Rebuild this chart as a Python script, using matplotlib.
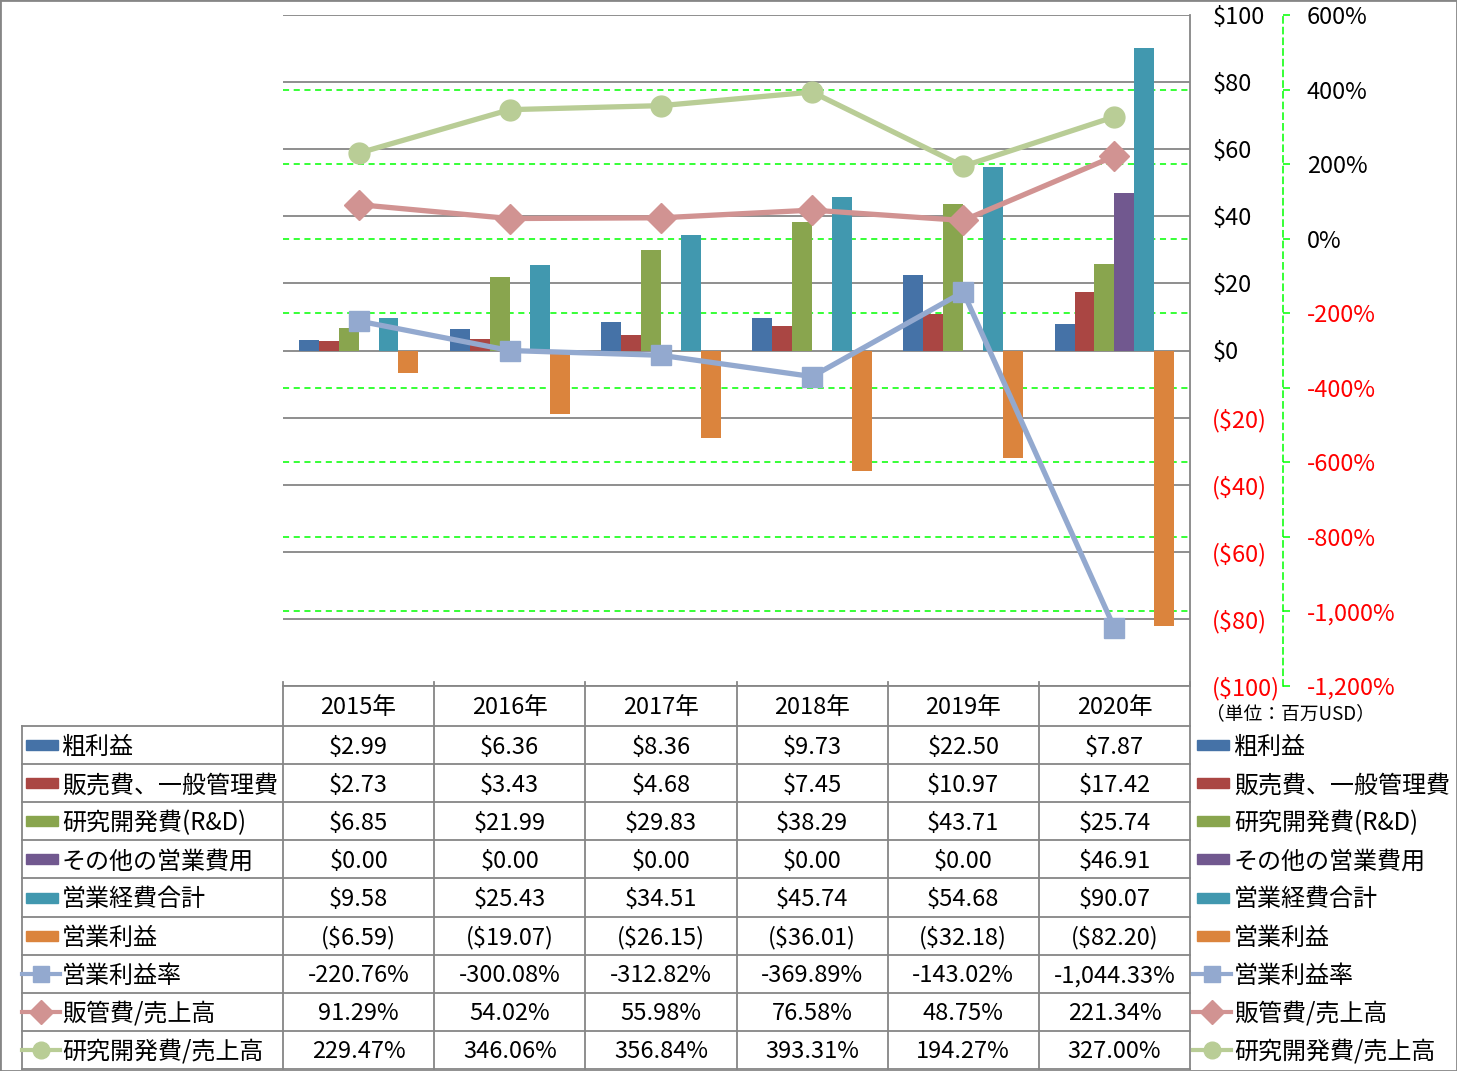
import numpy as np
import matplotlib.pyplot as plt
from matplotlib.lines import Line2D
from matplotlib.patches import Rectangle

plt.rcParams['font.family'] = ['Noto Sans CJK JP', 'DejaVu Sans']

# data
years = ['2015年', '2016年', '2017年', '2018年', '2019年', '2020年']
bar_names = ['粗利益', '販売費、一般管理費', '研究開発費(R&D)', 'その他の営業費用', '営業経費合計', '営業利益']
gross_profit = [2.99, 6.36, 8.36, 9.73, 22.50, 7.87]
sga = [2.73, 3.43, 4.68, 7.45, 10.97, 17.42]
rnd = [6.85, 21.99, 29.83, 38.29, 43.71, 25.74]
other_opex = [0.0, 0.0, 0.0, 0.0, 0.0, 46.91]
total_opex = [9.58, 25.43, 34.51, 45.74, 54.68, 90.07]
op_income = [-6.59, -19.07, -26.15, -36.01, -32.18, -82.20]

line_names = ['営業利益率', '販管費/売上高', '研究開発費/売上高']
op_margin = [-220.76, -300.08, -312.82, -369.89, -143.02, -1044.33]
sga_ratio = [91.29, 54.02, 55.98, 76.58, 48.75, 221.34]
rnd_ratio = [229.47, 346.06, 356.84, 393.31, 194.27, 327.00]

usd_ticks = list(range(-100, 101, 20))
pct_ticks = list(range(-1200, 601, 200))

bar_series = [gross_profit, sga, rnd, other_opex, total_opex, op_income]
line_series = [op_margin, sga_ratio, rnd_ratio]
bar_colors = ['#4572A7', '#AA4643', '#89A54E', '#71588F', '#4198AF', '#DB843D']
line_colors = ['#93A9CF', '#D19392', '#B9CD96']
markers = ['s', 'D', 'o']
msizes = [15, 15, 15]

GRAY = '#868686'
GREEN = '#00FF00'
FS = 17
FS_LBL = 17.3


def usd(v, dec=2):
    s = f"${abs(v):,.{dec}f}"
    return f"({s})" if v < 0 else s


def pct(v):
    return f"{v:,.2f}%"


W, H = 1457, 1071
fig = plt.figure(figsize=(W / 100, H / 100), dpi=100)


def fx(x):
    return x / W


def fy(y):
    return 1 - y / H


L, R, T, B = 283, 1190, 15, 686
ax = fig.add_axes([fx(L), fy(B), (R - L) / W, (B - T) / H])
x = np.arange(len(years))
ax.set_xlim(-0.5, len(years) - 0.5)
ax.set_ylim(-100, 100)
ax.set_xticks([])
ax.grid(axis='y', color=GRAY, lw=1.3)
ax.set_axisbelow(True)

# green gridlines of the percent axis, drawn behind the bars
for p in pct_ticks[1:-1]:
    yy = -100 + (p - pct_ticks[0]) / (pct_ticks[-1] - pct_ticks[0]) * 200
    ax.axhline(yy, color=GREEN, lw=1.1, ls=(0, (4, 3)), zorder=0.6)

bw = 0.132
for k, (vals, c) in enumerate(zip(bar_series, bar_colors)):
    ax.bar(x + (k - 2.5) * bw, vals, bw, color=c, zorder=2)

ax2 = ax.twinx()

# primary axis: labels on the right of the plot
for s in ['top', 'left', 'bottom']:
    ax.spines[s].set_visible(False)
ax.spines['right'].set_color(GRAY)
ax.spines['right'].set_linewidth(1.3)
ax.yaxis.tick_right()
ax.set_yticks(usd_ticks, [usd(v, 0) for v in usd_ticks])
for v, t in zip(usd_ticks, ax.get_yticklabels()):
    t.set_color('red' if v < 0 else 'black')
ax.tick_params(axis='y', which='both', left=False, labelleft=False, right=True, labelright=True,
               length=0, pad=16, labelsize=FS)

ax2.set_ylim(pct_ticks[0], pct_ticks[-1])
for s in ['top', 'left', 'bottom']:
    ax2.spines[s].set_visible(False)
ax2.spines['right'].set_position(('outward', 93 * 0.72))
ax2.spines['right'].set_color(GREEN)
ax2.spines['right'].set_linestyle((0, (4, 3)))
ax2.spines['right'].set_linewidth(1.1)
ax2.set_yticks(pct_ticks, [f"{p:,}%" for p in pct_ticks])
for p, t in zip(pct_ticks, ax2.get_yticklabels()):
    t.set_color('red' if p < 0 else 'black')
ax2.tick_params(axis='y', length=5, color=GREEN, width=1.1, pad=12, labelsize=FS)

for vals, c, m, ms in zip(line_series, line_colors, markers, msizes):
    ax2.plot(x, vals, color=c, lw=3.8, marker=m, ms=ms, mfc=c, mec=c,
             zorder=3, clip_on=False)

# data table
col_edges = np.linspace(L, R, len(years) + 1)
row_edges = np.linspace(726, 1069, 10)
LEFT = 22
DY = 2  # small downward nudge for table text


def hline(y, x0, x1):
    fig.add_artist(Line2D([fx(x0), fx(x1)], [fy(y), fy(y)], color=GRAY, lw=1.3))


def vline(xp, y0, y1):
    fig.add_artist(Line2D([fx(xp), fx(xp)], [fy(y0), fy(y1)], color=GRAY, lw=1.3))


hline(B, L, R)
for y in row_edges:
    hline(y, LEFT, R)
vline(LEFT, row_edges[0], row_edges[-1])
for xe in col_edges:
    vline(xe, B - 4, row_edges[-1])

centers = (col_edges[:-1] + col_edges[1:]) / 2
for cx, yr in zip(centers, years):
    fig.text(fx(cx), fy((B + row_edges[0]) / 2 + DY), yr, ha='center', va='center', fontsize=FS)

rows = [[usd(v) for v in s] for s in bar_series] + [[pct(v) for v in s] for s in line_series]
row_centers = (row_edges[:-1] + row_edges[1:]) / 2
for rc, vals in zip(row_centers, rows):
    for cx, v in zip(centers, vals):
        fig.text(fx(cx), fy(rc + DY), v, ha='center', va='center', fontsize=FS)

names = bar_names + line_names


def legend_key(i, x0, rc):
    if i < len(bar_colors):
        fig.add_artist(Rectangle((fx(x0 + 4), fy(rc + 5)), 32 / W, 10 / H,
                                 color=bar_colors[i], transform=fig.transFigure))
    else:
        j = i - len(bar_colors)
        fig.add_artist(Line2D([fx(x0), fx(x0 + 38)], [fy(rc), fy(rc)], color=line_colors[j], lw=3))
        fig.add_artist(Line2D([fx(x0 + 19)], [fy(rc)], marker=markers[j], ms=12,
                              color=line_colors[j], lw=0))


for i, (rc, nm) in enumerate(zip(row_centers, names)):
    legend_key(i, LEFT, rc)
    fig.text(fx(62), fy(rc + DY), nm, ha='left', va='center', fontsize=FS_LBL)
    legend_key(i, 1193, rc)
    fig.text(fx(1234), fy(rc + DY), nm, ha='left', va='center', fontsize=FS_LBL)

fig.text(fx(1206), fy(714), '（単位：百万USD）', ha='left', va='center', fontsize=13.5)

fig.add_artist(Rectangle((0, 0), 1, 1, transform=fig.transFigure, fill=False,
                         ec=GRAY, lw=2))

fig.savefig('out.png', dpi=100)
